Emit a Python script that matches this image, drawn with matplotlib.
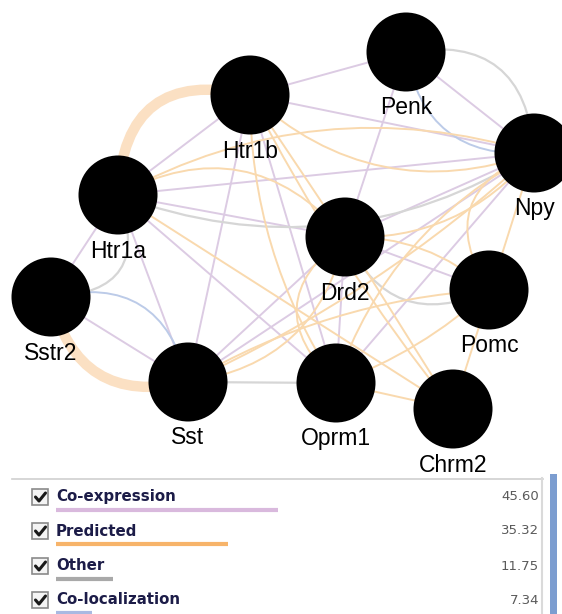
"""
Red de interacciones génicas (estilo GeneMANIA) con leyenda de tipos de red.
Genera out.png
"""
import matplotlib.pyplot as plt
from matplotlib.patches import Circle, Rectangle, PathPatch
from matplotlib.path import Path

# ---------- datos ----------
genes = ["Penk", "Htr1b", "Npy", "Htr1a", "Drd2", "Sstr2", "Pomc", "Sst", "Oprm1", "Chrm2"]
gene_x = [406, 250, 534, 118, 345, 51, 489, 188, 336, 453]
gene_y = [52, 95, 153, 195, 237, 297, 290, 382, 383, 409]

# aristas por tipo de red (origen, destino)
edges_coexp = [("Htr1b", "Penk"), ("Htr1b", "Npy"), ("Penk", "Npy"), ("Penk", "Drd2"),
               ("Htr1a", "Htr1b"), ("Htr1a", "Npy"), ("Htr1a", "Drd2"), ("Htr1a", "Sstr2"),
               ("Htr1a", "Sst"), ("Htr1a", "Oprm1"), ("Htr1b", "Sst"), ("Htr1b", "Oprm1"),
               ("Sstr2", "Sst"), ("Sst", "Drd2"), ("Sst", "Npy"), ("Drd2", "Pomc"),
               ("Drd2", "Oprm1"), ("Oprm1", "Npy"), ("Drd2", "Npy")]
edges_pred = [("Htr1a", "Npy"), ("Htr1a", "Drd2"), ("Htr1b", "Npy"), ("Htr1b", "Drd2"),
              ("Htr1b", "Chrm2"), ("Htr1b", "Oprm1"), ("Htr1a", "Chrm2"), ("Sst", "Drd2"),
              ("Sst", "Npy"), ("Sst", "Pomc"), ("Oprm1", "Npy"), ("Oprm1", "Pomc"),
              ("Oprm1", "Chrm2"), ("Drd2", "Chrm2"), ("Drd2", "Npy"), ("Pomc", "Npy"),
              ("Chrm2", "Npy"), ("Oprm1", "Drd2"), ("Drd2", "Pomc")]
edges_pred_strong = [("Htr1a", "Htr1b"), ("Sstr2", "Sst")]
edges_other = [("Penk", "Npy"), ("Htr1a", "Npy"), ("Htr1a", "Sstr2"), ("Sst", "Oprm1"),
               ("Drd2", "Pomc")]
edges_coloc = [("Penk", "Npy"), ("Sstr2", "Sst")]

# curvatura por arista (0 = recta)
bend_coexp = [0] * len(edges_coexp)
bend_pred = [-0.21, -0.4, 0.3, 0, 0.05, 0.15, 0, 0.35, 0.08, -0.12, -0.2, 0.1,
             0, 0, 0.25, -0.6, 0, -0.6, -0.2]
bend_pred_strong = [-0.6, 0.5]
bend_other = [-0.55, 0.245, -0.7, 0, 0.5]
bend_coloc = [0.45, -0.5]

net_types = ["Co-expression", "Predicted", "Other", "Co-localization"]
net_weights = [45.60, 35.32, 11.75, 7.34]

# ---------- estilo ----------
C_COEXP = "#DCCBE3"
C_PRED = "#F9D9AE"
C_PRED_STRONG = "#FBE0C3"
C_OTHER = "#D6D6D6"
C_COLOC = "#BCCBE8"
LEG_COLORS = ["#D9B9DD", "#F7B46A", "#A9A9A9", "#A9B9E2"]
NAVY = "#1C1C48"

plt.rcParams.update({"font.family": "Liberation Sans"})

fig = plt.figure(figsize=(5.62, 6.14), dpi=100)
ax = fig.add_axes([0, 0, 1, 1])
ax.set_xlim(0, 562)
ax.set_ylim(614, 0)
ax.axis("off")

pos = {g: (x, y) for g, x, y in zip(genes, gene_x, gene_y)}


def edge(a, b, bend, color, lw):
    (x1, y1), (x2, y2) = pos[a], pos[b]
    dx, dy = x2 - x1, y2 - y1
    cx = (x1 + x2) / 2 - bend * dy
    cy = (y1 + y2) / 2 + bend * dx
    path = Path([(x1, y1), (cx, cy), (x2, y2)],
                [Path.MOVETO, Path.CURVE3, Path.CURVE3])
    ax.add_patch(PathPatch(path, fc="none", ec=color, lw=lw,
                           capstyle="round", zorder=2))


for (a, b), r in zip(edges_coexp, bend_coexp):
    edge(a, b, r, C_COEXP, 1.4)
for (a, b), r in zip(edges_other, bend_other):
    edge(a, b, r, C_OTHER, 1.6)
for (a, b), r in zip(edges_coloc, bend_coloc):
    edge(a, b, r, C_COLOC, 1.4)
for (a, b), r in zip(edges_pred, bend_pred):
    edge(a, b, r, C_PRED, 1.4)
for (a, b), r in zip(edges_pred_strong, bend_pred_strong):
    edge(a, b, r, C_PRED_STRONG, 7.5)

# nodos
for g in genes:
    x, y = pos[g]
    ax.add_patch(Circle((x, y), 39.5, fc="black", ec="none", zorder=5))
    ax.text(x, y + 56, g, ha="center", va="center", fontsize=16.5,
            color="black", zorder=6)

# ---------- leyenda ----------
ax.plot([12, 543], [478.5, 478.5], color="#CFCFCF", lw=1.2, zorder=3)
ax.plot([542, 542], [478, 614], color="#DADADA", lw=1.5, zorder=3)
ax.add_patch(Rectangle((550, 474), 7, 140, fc="#7C9DD0", ec="none", zorder=3))

row_y = [497, 531, 566, 600]
for name, w, col, yy in zip(net_types, net_weights, LEG_COLORS, row_y):
    ax.add_patch(Rectangle((32, yy - 8), 16, 16, fc="#F4F4F4", ec="#8A8A8A",
                           lw=1.2, zorder=4))
    ax.plot([35.5, 39, 45.5], [yy, yy + 4, yy - 4], color="#1A1A1A", lw=2.2,
            solid_capstyle="round", solid_joinstyle="round", zorder=5)
    ax.text(56, yy, name, ha="left", va="center", fontsize=10.8,
            fontweight="bold", color=NAVY, family="DejaVu Sans", zorder=5)
    ax.plot([56, 56 + w * 4.87], [yy + 13, yy + 13], color=col, lw=3,
            solid_capstyle="butt", zorder=4)
    ax.text(539, yy, f"{w:.2f}", ha="right", va="center", fontsize=9.5,
            color="#5A5A5A", family="DejaVu Sans", zorder=5)

plt.savefig("out.png", dpi=100)
plt.close()
print("Generado out.png")
